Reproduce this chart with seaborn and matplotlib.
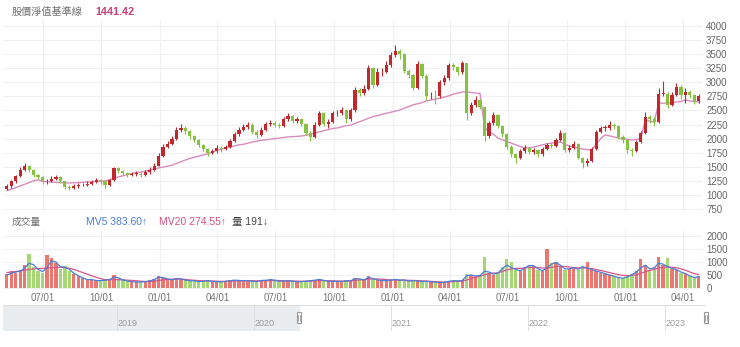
import numpy as np
import pandas as pd
import matplotlib
matplotlib.use("Agg")
import matplotlib.pyplot as plt
import matplotlib.dates as mdates
import matplotlib.transforms as mtrans
from matplotlib.patches import Rectangle
import seaborn as sns

# ---------------- data (weekly) ----------------
first_week = "2020-05-06"
open_ = [1100,1150,1240,1330,1450,1520,1440,1350,1310,1240,
         1250,1290,1310,1240,1140,1130,1160,1170,1180,1200,
         1230,1260,1240,1170,1260,1470,1420,1385,1355,1370,
         1375,1355,1400,1450,1520,1700,1860,1910,1990,2150,
         2190,2130,2040,1980,1890,1820,1750,1775,1840,1810,
         1850,1960,2080,2160,2200,2250,2120,2060,2160,2260,
         2280,2240,2220,2350,2400,2310,2340,2260,2100,2030,
         2250,2450,2260,2290,2450,2460,2500,2340,2500,2860,
         2810,2880,3250,2950,3180,3190,3300,3490,3560,3500,
         3200,3130,2900,3330,3120,2750,2760,2750,3000,3080,
         3300,3270,3180,3340,2450,2600,2690,2570,2050,2280,
         2420,2220,2080,1860,1730,1660,1780,1840,1760,1790,
         1720,1820,1880,1870,1980,2100,1800,1830,1900,1660,
         1560,1600,1820,2120,2190,2190,2250,2220,2030,1970,
         1790,1780,1940,2100,2380,2340,2300,2800,2800,2600,
         2780,2920,2780,2820,2780,2660]
high = [1190,1270,1360,1490,1570,1540,1460,1380,1330,1290,
        1330,1350,1330,1250,1170,1190,1210,1220,1240,1270,
        1300,1290,1250,1290,1500,1490,1440,1400,1410,1420,
        1400,1440,1490,1560,1740,1900,1960,2050,2200,2260,
        2220,2160,2070,2000,1910,1840,1820,1880,1870,1890,
        2000,2120,2210,2260,2300,2270,2150,2200,2300,2330,
        2310,2280,2390,2450,2420,2390,2360,2280,2130,2290,
        2490,2470,2340,2490,2510,2560,2520,2540,2920,2900,
        2950,3300,3270,3260,3250,3370,3540,3660,3600,3520,
        3240,3150,3380,3350,3140,2820,2860,3050,3130,3350,
        3340,3290,3370,3350,2650,2760,2710,2580,2320,2470,
        2440,2240,2100,1880,1750,1820,1880,1860,1830,1810,
        1860,1930,1920,2020,2150,2110,1880,1960,1920,1680,
        1650,1850,2160,2230,2240,2310,2280,2240,2060,1990,
        1830,1980,2140,2480,2420,2380,2900,3020,2830,2830,
        2980,2950,2900,2870,2800,2800]
low = [1080,1130,1220,1310,1420,1400,1320,1280,1200,1200,
       1230,1260,1210,1100,1090,1110,1130,1150,1160,1180,
       1210,1200,1130,1150,1250,1390,1350,1320,1330,1340,
       1320,1340,1380,1430,1510,1680,1830,1880,1970,2110,
       2080,2000,1940,1850,1780,1700,1720,1750,1770,1790,
       1830,1940,2050,2130,2170,2080,2020,2040,2140,2230,
       2200,2180,2200,2320,2270,2280,2220,2060,1960,2010,
       2230,2220,2180,2270,2400,2420,2270,2320,2480,2760,
       2770,2860,2900,2930,3120,3160,3270,3450,3420,3160,
       3080,2860,2880,3080,2690,2700,2620,2720,2960,3050,
       3220,3130,3150,2330,2420,2560,2530,1960,2020,2250,
       2180,2030,1820,1680,1570,1640,1750,1720,1730,1670,
       1700,1790,1830,1850,1960,1760,1770,1810,1630,1480,
       1520,1580,1800,2100,2140,2160,2170,1990,1930,1750,
       1700,1760,1920,2080,2280,2230,2280,2760,2540,2580,
       2760,2700,2640,2720,2620,2640]
close = [1150,1240,1330,1450,1520,1440,1350,1310,1240,1250,
         1290,1310,1240,1140,1130,1160,1170,1180,1200,1230,
         1260,1240,1170,1260,1470,1420,1385,1355,1370,1375,
         1355,1400,1450,1520,1700,1860,1910,1990,2150,2190,
         2130,2040,1980,1890,1820,1750,1775,1840,1810,1850,
         1960,2080,2160,2200,2250,2120,2060,2160,2260,2280,
         2240,2220,2350,2400,2310,2340,2260,2100,2030,2250,
         2450,2260,2290,2450,2460,2500,2340,2500,2860,2810,
         2880,3250,2950,3180,3190,3300,3490,3560,3500,3200,
         3130,2900,3330,3120,2750,2760,2750,3000,3080,3300,
         3270,3180,3340,2450,2600,2690,2570,2050,2280,2420,
         2220,2080,1860,1730,1660,1780,1840,1760,1790,1720,
         1820,1880,1870,1980,2100,1800,1830,1900,1660,1560,
         1600,1820,2120,2190,2190,2250,2220,2030,1970,1790,
         1780,1940,2100,2380,2340,2300,2800,2800,2600,2780,
         2920,2780,2820,2780,2660,2760]
base_line = [1075,1100,1130,1160,1190,1220,1250,1270,1240,1235,
             1230,1225,1220,1215,1212,1215,1220,1225,1230,1235,
             1240,1245,1250,1270,1300,1320,1340,1360,1380,1395,
             1405,1420,1440,1460,1480,1495,1510,1530,1560,1590,
             1620,1650,1670,1690,1710,1730,1760,1790,1810,1830,
             1850,1870,1890,1900,1920,1940,1955,1970,1980,1990,
             2000,2010,2020,2030,2035,2040,2046,2060,2080,2100,
             2120,2140,2160,2180,2190,2210,2230,2240,2270,2300,
             2330,2360,2390,2410,2430,2450,2470,2490,2508,2540,
             2570,2600,2620,2640,2670,2686,2700,2720,2740,2760,
             2790,2810,2828,2830,2820,2810,2800,2200,2120,2080,
             2010,1980,1950,1920,1890,1860,1840,1833,1850,1870,
             1890,1910,1920,1930,1940,1900,1870,1850,1833,1815,
             1805,1800,1900,2000,2064,2050,2030,2011,2000,1990,
             1975,1985,2000,2330,2310,2295,2632,2630,2632,2640,
             2650,2660,2686,2670,2660,2650]
volume = [550,650,600,700,900,1300,800,650,600,1250,
          1150,950,750,850,650,550,450,380,300,350,
          280,300,320,350,500,350,300,260,240,250,
          230,260,300,350,450,400,350,300,400,350,
          300,280,300,250,280,300,260,250,240,280,
          300,320,300,280,300,260,250,320,300,350,
          300,260,280,300,260,240,260,280,300,320,
          350,280,260,280,250,260,300,280,400,350,
          300,450,350,300,280,300,320,350,300,330,
          260,300,280,250,280,240,230,220,230,280,
          300,280,300,550,500,450,500,1200,600,500,
          600,800,1100,1000,700,650,800,900,850,700,
          650,1500,950,1000,850,700,750,800,700,850,
          1000,700,650,600,550,500,450,400,380,450,
          550,650,1100,900,700,800,1200,900,1150,750,
          700,600,550,450,400,450]
mv5 = [500,580,620,650,780,950,900,720,640,780,
       1050,1000,820,800,720,580,480,400,330,330,
       300,290,310,330,430,400,320,280,250,245,
       240,250,280,330,420,410,360,320,370,360,
       310,290,290,260,270,290,270,255,245,265,
       290,310,300,285,290,270,255,300,305,330,
       310,270,275,290,270,250,255,270,290,310,
       340,300,270,275,260,260,285,285,370,360,
       315,420,370,320,290,295,315,340,310,320,
       275,290,285,260,270,250,235,225,228,265,
       290,285,295,480,510,470,490,650,620,540,
       580,750,880,790,720,670,770,870,860,740,
       670,780,920,980,880,740,740,790,720,820,
       770,710,660,610,560,510,460,410,385,430,
       520,620,770,880,740,780,950,920,820,760,
       710,620,560,470,410,440]
mv20 = [600,620,640,660,690,720,740,750,760,770,
        790,800,800,790,760,720,660,600,540,480,
        420,370,330,320,330,330,320,310,300,290,
        270,260,260,275,300,320,340,350,355,350,
        340,320,305,295,285,280,275,270,265,265,
        270,280,285,290,295,290,285,285,290,295,
        300,295,290,285,280,275,270,270,275,285,
        295,295,290,285,280,275,275,280,300,320,
        330,350,360,355,345,330,320,315,315,310,
        305,300,295,285,275,265,255,245,240,245,
        255,265,275,320,370,420,460,520,560,580,
        590,640,700,740,760,760,770,790,800,790,
        770,770,800,830,840,830,810,790,780,780,
        770,750,720,680,640,600,560,520,490,480,
        490,520,570,630,680,720,770,800,810,800,
        780,740,690,620,560,520]
price_ticks = [750, 1000, 1250, 1500, 1750, 2000, 2250, 2500, 2750,
               3000, 3250, 3500, 3750, 4000]
volume_ticks = [0, 500, 1000, 1500, 2000]
quarter_starts = ["2020-07-01", "2020-10-01", "2021-01-01", "2021-04-01",
                  "2021-07-01", "2021-10-01", "2022-01-01", "2022-04-01",
                  "2022-07-01", "2022-10-01", "2023-01-01", "2023-04-01"]
quarter_labels = ["07/01", "10/01", "01/01", "04/01", "07/01", "10/01",
                  "01/01", "04/01", "07/01", "10/01", "01/01", "04/01"]
nav_years = ["2019", "2020", "2021", "2022", "2023"]

# ---------------- figure ----------------
sns.set_theme(style="white")
LATIN_FIRST = ["Liberation Sans", "DejaVu Sans", "Noto Sans CJK TC"]
CJK_FIRST = ["Noto Sans CJK TC", "DejaVu Sans"]
plt.rcParams["font.family"] = LATIN_FIRST

W, H = 740, 347
fig = plt.figure(figsize=(W / 100, H / 100), dpi=100)
fig.patch.set_facecolor("white")


def ax_px(l, t, r, b):
    return fig.add_axes([l / W, 1 - b / H, (r - l) / W, (b - t) / H])


ax = ax_px(3, 20, 702, 212)
axv = ax_px(3, 230, 702, 289)
axn = ax_px(3, 305, 706, 331)

dates = pd.date_range(first_week, periods=len(close), freq="7D")
x = mdates.date2num(dates)
df = pd.DataFrame({"x": x, "open": open_, "high": high, "low": low,
                   "close": close, "base": base_line, "volume": volume,
                   "mv5": mv5, "mv20": mv20})
df["up"] = df["close"] >= df["open"]

UP, DOWN = "#c1272d", "#84c23f"
view = (mdates.date2num(pd.Timestamp("2020-04-30")),
        mdates.date2num(pd.Timestamp("2023-05-01")))
qx = mdates.date2num(pd.to_datetime(quarter_starts))

for a in (ax, axv):
    a.set_facecolor("white")
    for s in a.spines.values():
        s.set_visible(False)
    a.set_xlim(*view)
    a.set_xticks(qx)
    a.yaxis.tick_right()
    a.tick_params(axis="both", length=0, labelsize=7, colors="#666666")
    a.grid(True, color="#f0f0f0", linewidth=0.8)
    a.set_axisbelow(True)

# ---- price pane ----
ax.set_ylim(697, 4107)
ax.set_yticks(price_ticks)
ax.set_yticklabels([str(v) for v in price_ticks])
ax.tick_params(axis="y", pad=3)
ax.set_xticklabels([])

sns.lineplot(data=df, x="x", y="base", ax=ax, color="#d98bbd",
             linewidth=1.0, zorder=2)
cols = np.where(df["up"], UP, DOWN)
ax.vlines(df["x"], df["low"], df["high"], colors=cols, linewidth=0.8, zorder=3)
body_b = np.minimum(df["open"], df["close"])
body_h = np.maximum(np.abs(df["close"] - df["open"]), 12)
ax.bar(df["x"], body_h, bottom=body_b, width=5.0, color=cols,
       linewidth=0, zorder=4)
ax.set_xlabel("")
ax.set_ylabel("")

# ---- volume pane ----
axv.set_ylim(-25, 2217)
axv.set_yticks(volume_ticks)
axv.set_yticklabels([str(v) for v in volume_ticks])
axv.tick_params(axis="y", pad=3)
axv.set_xticklabels(quarter_labels)
axv.tick_params(axis="x", pad=3, colors="#777777")
vcols = np.where(df["up"], "#e8554e", "#8fcf52")
axv.bar(df["x"], df["volume"], width=5.2, color=vcols, alpha=0.8,
        linewidth=0, zorder=2)
sns.lineplot(data=df, x="x", y="mv20", ax=axv, color="#d9558a",
             linewidth=0.9, zorder=3)
sns.lineplot(data=df, x="x", y="mv5", ax=axv, color="#4a7fd8",
             linewidth=0.9, zorder=4)
axv.set_xlabel("")
axv.set_ylabel("")

# ---- navigator ----
nav_l = mdates.date2num(pd.Timestamp("2018-03-03"))
nav_r = mdates.date2num(pd.Timestamp("2023-04-20"))
axn.set_xlim(nav_l, nav_r)
axn.set_ylim(0, 1)
axn.set_xticks([])
axn.set_yticks([])
for s in axn.spines.values():
    s.set_visible(False)
axn.set_facecolor("white")
h_l, h_r = view[0], min(view[1], nav_r)
axn.axvspan(nav_l, h_l, color="#e9edf0", zorder=1)
axn.plot([nav_l, nav_r], [0.995, 0.995], color="#dcdcdc", lw=0.8, zorder=2)
axn.plot([h_l, nav_r], [0.005, 0.005], color="#d0d0d0", lw=0.8, zorder=2)
axn.plot([nav_r, nav_r], [0, 1], color="#e0e0e0", lw=0.8, zorder=2)
for yr in nav_years:
    xv = mdates.date2num(pd.Timestamp(f"{yr}-01-01"))
    axn.axvline(xv, color="#dedede", lw=0.7, zorder=2)
    axn.text(xv + 2, 0.1, yr, fontsize=6.5, color="#9a9a9a", ha="left",
             va="bottom", zorder=3)
trans = mtrans.blended_transform_factory(axn.transData, axn.transAxes)
for hx in (h_l, h_r):
    axn.add_patch(Rectangle((hx - 6.5, 0.3), 13, 0.42, transform=trans,
                            facecolor="white", edgecolor="#9a9a9a", lw=0.8,
                            zorder=5, clip_on=False))
    axn.plot([hx - 1.5, hx - 1.5], [0.4, 0.62], transform=trans,
             color="#9a9a9a", lw=0.6, zorder=6, clip_on=False)
    axn.plot([hx + 1.5, hx + 1.5], [0.4, 0.62], transform=trans,
             color="#9a9a9a", lw=0.6, zorder=6, clip_on=False)

# ---- header texts ----
def ftxt(px, py, s, **kw):
    fig.text(px / W, 1 - py / H, s, va="center", ha="left", **kw)


ftxt(12, 12, "股價淨值基準線", fontsize=7.3, color="#707070", family=CJK_FIRST)
ftxt(95, 12, "1441.42", fontsize=7.8, color="#c2417c", fontweight="bold")
ftxt(12, 222, "成交量", fontsize=7.0, color="#707070", family=CJK_FIRST)
ftxt(86, 222, "MV5 383.60↑", fontsize=7.5, color="#4a7cd6")
ftxt(159, 222, "MV20 274.55↑", fontsize=7.5, color="#d4507f")
ftxt(232, 222, "量 191↓", fontsize=7.5, color="#444444")

fig.savefig("out.png", dpi=100, facecolor="white")
